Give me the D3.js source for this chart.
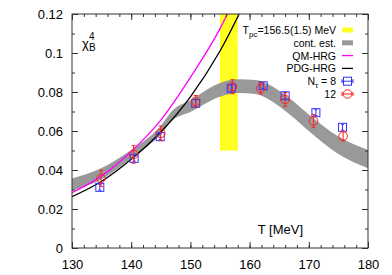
<html>
  <head>
    <script src="https://d3js.org/d3.v7.min.js"></script>
    <style>
      body { margin: 0; background: #fff; }
      text { font-family: "Liberation Sans", Arial, sans-serif; fill: #000; }
    </style>
  </head>
  <body>
    <div id="vis"></div>
  </body>
  <script>
    // lattice points, N_tau = 8 (blue squares)
    var tempN8 = [134.7, 140.5, 144.9, 150.9, 156.9, 162.3, 166.0, 171.2, 175.7]
    var chiN8 = [0.0311, 0.0460, 0.0571, 0.0742, 0.0819, 0.0832, 0.0781, 0.0694, 0.0619]
    var errN8 = [0.0015, 0.0015, 0.0015, 0.0018, 0.0015, 0.0015, 0.0015, 0.0015, 0.0015]

    // lattice points, N_tau = 12 (red circles)
    var tempN12 = [134.9, 140.4, 145.0, 150.9, 157.1, 161.9, 166.0, 170.8, 175.8]
    var chiN12 = [0.0357, 0.0480, 0.0588, 0.0752, 0.0827, 0.0819, 0.0762, 0.0651, 0.0574]
    var errN12 = [0.0042, 0.0045, 0.0038, 0.0030, 0.0036, 0.0030, 0.0035, 0.0034, 0.0025]

    // continuum estimate band
    var bandT = [130, 135, 140, 145, 147, 150, 155, 158, 161, 164, 167, 170, 175, 180]
    var bandLo = [0.0294, 0.0352, 0.0460, 0.0583, 0.0655, 0.0698, 0.0776, 0.0795, 0.0790, 0.0748, 0.0680, 0.0600, 0.0482, 0.0409]
    var bandHi = [0.0357, 0.0410, 0.0502, 0.0627, 0.0706, 0.0758, 0.0846, 0.0865, 0.0862, 0.0826, 0.0762, 0.0685, 0.0572, 0.0503]

    // HRG curves
    var hrgT = [130, 135, 140, 145, 150, 155, 160]
    var qmHrg = [0.0284, 0.0370, 0.0495, 0.0656, 0.0875, 0.1125, 0.1450]
    var pdgHrg = [0.0263, 0.0342, 0.0455, 0.0595, 0.0775, 0.1010, 0.1310]

    // pseudo-critical temperature band
    var tpcRange = [155, 158]
    var tpcChi = [0.05, 0.12]

    var xTicks = [130, 140, 150, 160, 170, 180]
    var yTicks = [0, 0.02, 0.04, 0.06, 0.08, 0.1, 0.12]

    var margin = {top: 14, right: 24, bottom: 27, left: 72}
    var width = 392 - margin.left - margin.right
    var height = 275 - margin.top - margin.bottom

    var svg = d3.select("#vis")
    .append("svg")
    .attr("width", 392)
    .attr("height", 275)
    .append("g")
    .attr("transform", "translate(" + margin.left + "," + margin.top + ")")

    var x = d3.scaleLinear().domain([130, 180]).range([0, width])
    var y = d3.scaleLinear().domain([0, 0.12]).range([height, 0])

    svg.append("clipPath").attr("id", "clip")
    .append("rect").attr("width", width).attr("height", height)

    var plot = svg.append("g").attr("clip-path", "url(#clip)")

    // yellow Tpc band
    plot.append("rect")
    .attr("x", x(tpcRange[0]))
    .attr("width", x(tpcRange[1]) - x(tpcRange[0]))
    .attr("y", y(tpcChi[1]))
    .attr("height", y(tpcChi[0]) - y(tpcChi[1]))
    .attr("fill", "#ffff22")

    // gray continuum band
    var area = d3.area()
    .x(function(d, i) { return x(bandT[i]) })
    .y0(function(d, i) { return y(bandLo[i]) })
    .y1(function(d, i) { return y(bandHi[i]) })
    .curve(d3.curveMonotoneX)
    plot.append("path")
    .attr("d", area(bandT))
    .attr("fill", "#999")

    // HRG lines
    var line = d3.line()
    .x(function(d) { return x(d[0]) })
    .y(function(d) { return y(d[1]) })
    .curve(d3.curveMonotoneX)
    plot.append("path")
    .attr("d", line(hrgT.map(function(t, i) { return [t, qmHrg[i]] })))
    .attr("fill", "none").attr("stroke", "#ff00ff").attr("stroke-width", 1.3)
    plot.append("path")
    .attr("d", line(hrgT.map(function(t, i) { return [t, pdgHrg[i]] })))
    .attr("fill", "none").attr("stroke", "#000").attr("stroke-width", 1.3)

    // N_tau = 8 squares
    tempN8.forEach(function(t, i) {
      var g = plot.append("g").attr("stroke", "#3333ff").attr("fill", "none").attr("stroke-width", 1)
      var cx = x(t), cy = y(chiN8[i])
      g.append("rect").attr("x", cx - 4).attr("y", cy - 4).attr("width", 8).attr("height", 8)
      g.append("line").attr("x1", cx).attr("x2", cx).attr("y1", y(chiN8[i] + errN8[i])).attr("y2", y(chiN8[i] - errN8[i]))
      g.append("line").attr("x1", cx - 1.5).attr("x2", cx + 1.5).attr("y1", y(chiN8[i] + errN8[i])).attr("y2", y(chiN8[i] + errN8[i]))
      g.append("line").attr("x1", cx - 1.5).attr("x2", cx + 1.5).attr("y1", y(chiN8[i] - errN8[i])).attr("y2", y(chiN8[i] - errN8[i]))
    })

    // N_tau = 12 circles
    tempN12.forEach(function(t, i) {
      var g = plot.append("g").attr("stroke", "#ff2020").attr("fill", "none").attr("stroke-width", 1)
      var cx = x(t), cy = y(chiN12[i])
      g.append("circle").attr("cx", cx).attr("cy", cy).attr("r", 4.3)
      g.append("line").attr("x1", cx).attr("x2", cx).attr("y1", y(chiN12[i] + errN12[i])).attr("y2", y(chiN12[i] - errN12[i]))
      g.append("line").attr("x1", cx - 2).attr("x2", cx + 2).attr("y1", y(chiN12[i] + errN12[i])).attr("y2", y(chiN12[i] + errN12[i]))
      g.append("line").attr("x1", cx - 2).attr("x2", cx + 2).attr("y1", y(chiN12[i] - errN12[i])).attr("y2", y(chiN12[i] - errN12[i]))
    })

    // axes: ticks on all four sides, pointing inward
    var xMinor = d3.range(130, 181, 2)
    var yMinor = d3.range(0, 0.1201, 0.01)
    var axisColor = "#333"

    svg.append("g").call(d3.axisBottom(x).tickValues(xMinor).tickSize(-3).tickFormat(""))
    .attr("transform", "translate(0," + height + ")")
    svg.append("g").call(d3.axisBottom(x).tickValues(xTicks).tickSize(-6).tickPadding(12).tickFormat(d3.format("d")))
    .attr("transform", "translate(0," + height + ")")
    .attr("class", "xlab")
    svg.append("g").call(d3.axisTop(x).tickValues(xMinor).tickSize(-3).tickFormat(""))
    svg.append("g").call(d3.axisTop(x).tickValues(xTicks).tickSize(-6).tickFormat(""))

    svg.append("g").call(d3.axisLeft(y).tickValues(yMinor).tickSize(-3).tickFormat(""))
    svg.append("g").call(d3.axisLeft(y).tickValues(yTicks).tickSize(-6).tickPadding(9).tickFormat(function(d) { return d == 0 ? "0" : d3.format("")(+d.toFixed(2)) }))
    .attr("class", "ylab")
    svg.append("g").call(d3.axisRight(y).tickValues(yMinor).tickSize(-3).tickFormat(""))
    .attr("transform", "translate(" + width + ",0)")
    svg.append("g").call(d3.axisRight(y).tickValues(yTicks).tickSize(-6).tickFormat(""))
    .attr("transform", "translate(" + width + ",0)")

    svg.selectAll(".domain").remove()
    svg.selectAll(".tick line").attr("stroke", axisColor)
    svg.selectAll(".xlab text, .ylab text")
    .style("font-size", "13px")
    .style("font-family", "'Liberation Sans', Arial, sans-serif")

    svg.append("rect")
    .attr("width", width).attr("height", height)
    .attr("fill", "none").attr("stroke", axisColor).attr("stroke-width", 1)

    // axis label
    svg.append("text")
    .attr("x", x(165.2)).attr("y", height - 14)
    .attr("text-anchor", "middle")
    .style("font-size", "13px")
    .text("T [MeV]")

    // chi_B^4 label
    var chi = svg.append("text").attr("x", 10).attr("y", 34).style("font-size", "13px")
    chi.append("tspan").text("χ")
    chi.append("tspan").attr("x", 17).attr("dy", -8).style("font-size", "10px").text("4")
    chi.append("tspan").attr("x", 17).attr("dy", 11).style("font-size", "10px").text("B")

    // legend
    var legX = 264
    var symX = 270
    var rowY = [30, 42.8, 55.6, 68.4, 81.2, 94]
    var leg = svg.append("g").style("font-size", "10.5px")

    function legText(i) {
      return leg.append("text").attr("x", legX).attr("y", rowY[i] - margin.top + 4).attr("text-anchor", "end")
    }
    var t0 = legText(0)
    t0.append("tspan").text("T")
    t0.append("tspan").attr("dy", 3).style("font-size", "8px").text("pc")
    t0.append("tspan").attr("dy", -3).text("=156.5(1.5) MeV")
    legText(1).text("cont. est.")
    legText(2).text("QM-HRG")
    legText(3).text("PDG-HRG")
    var t4 = legText(4)
    t4.append("tspan").text("N")
    t4.append("tspan").attr("dy", 3).style("font-size", "8px").text("τ")
    t4.append("tspan").attr("dy", -3).text(" = 8")
    legText(5).text("12")

    function ly(i) { return rowY[i] - margin.top }
    leg.append("rect").attr("x", symX).attr("y", ly(0) - 2.5).attr("width", 11).attr("height", 5).attr("fill", "#ffff22")
    leg.append("rect").attr("x", symX).attr("y", ly(1) - 2.5).attr("width", 11).attr("height", 5).attr("fill", "#999")
    leg.append("line").attr("x1", symX).attr("x2", symX + 11).attr("y1", ly(2)).attr("y2", ly(2)).attr("stroke", "#ff00ff").attr("stroke-width", 1.3)
    leg.append("line").attr("x1", symX).attr("x2", symX + 11).attr("y1", ly(3)).attr("y2", ly(3)).attr("stroke", "#000").attr("stroke-width", 1.3)

    var lb = leg.append("g").attr("stroke", "#3333ff").attr("fill", "none")
    lb.append("rect").attr("x", symX + 1.5).attr("y", ly(4) - 4).attr("width", 8).attr("height", 8)
    lb.append("line").attr("x1", symX).attr("x2", symX + 11).attr("y1", ly(4)).attr("y2", ly(4))
    lb.append("line").attr("x1", symX).attr("x2", symX).attr("y1", ly(4) - 2).attr("y2", ly(4) + 2)
    lb.append("line").attr("x1", symX + 11).attr("x2", symX + 11).attr("y1", ly(4) - 2).attr("y2", ly(4) + 2)

    var lr = leg.append("g").attr("stroke", "#ff2020").attr("fill", "none")
    lr.append("circle").attr("cx", symX + 5.5).attr("cy", ly(5)).attr("r", 4.3)
    lr.append("line").attr("x1", symX).attr("x2", symX + 11).attr("y1", ly(5)).attr("y2", ly(5))
    lr.append("line").attr("x1", symX).attr("x2", symX).attr("y1", ly(5) - 2).attr("y2", ly(5) + 2)
    lr.append("line").attr("x1", symX + 11).attr("x2", symX + 11).attr("y1", ly(5) - 2).attr("y2", ly(5) + 2)
  </script>
</html>
